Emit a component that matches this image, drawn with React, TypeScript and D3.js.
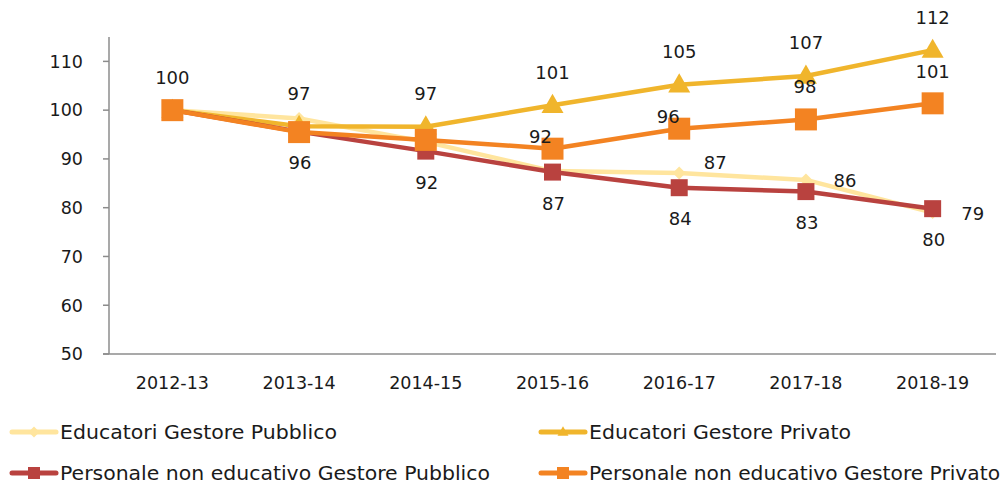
import React, { useEffect } from 'react'
import * as d3 from 'd3'

const years = ['2012-13', '2013-14', '2014-15', '2015-16', '2016-17', '2017-18', '2018-19']
const yTicks = [50, 60, 70, 80, 90, 100, 110]

const eduPubblico = [100, 98.3, 93.5, 87.5, 87.1, 85.7, 79]
const eduPrivato = [100, 96.7, 96.6, 101, 105.2, 107, 112.3]
const persPubblico = [100, 95.6, 91.6, 87.3, 84.1, 83.3, 79.8]
const persPrivato = [100, 95.5, 93.9, 92.1, 96.2, 98.1, 101.4]

const W = 1006
const H = 485
const font = '"DejaVu Sans", sans-serif'

type Marker = 'diamond' | 'triangle' | 'square'

interface Series {
  name: string
  values: number[]
  color: string
  marker: Marker
  size: number
  legendSize: number
  // which points get a value label, and where it sits relative to the point
  labels: { i: number; dx: number; dy: number }[]
}

const series: Series[] = [
  {
    name: 'Educatori Gestore Pubblico',
    values: eduPubblico,
    color: '#FFE59E',
    marker: 'diamond',
    size: 13,
    legendSize: 11,
    labels: [
      { i: 4, dx: 36, dy: -11 },
      { i: 5, dx: 39, dy: 1 },
      { i: 6, dx: 40, dy: 1 },
    ],
  },
  {
    name: 'Educatori Gestore Privato',
    values: eduPrivato,
    color: '#F0B52C',
    marker: 'triangle',
    size: 22,
    legendSize: 11,
    labels: [0, 1, 2, 3, 4, 5, 6].map(i => ({ i, dx: 0, dy: -33 })),
  },
  {
    name: 'Personale non educativo Gestore Pubblico',
    values: persPubblico,
    color: '#B9423F',
    marker: 'square',
    size: 17,
    legendSize: 12,
    labels: [1, 2, 3, 4, 5, 6].map(i => ({ i, dx: 1, dy: 31 })),
  },
  {
    name: 'Personale non educativo Gestore Privato',
    values: persPrivato,
    color: '#F38322',
    marker: 'square',
    size: 22,
    legendSize: 12,
    labels: [
      { i: 3, dx: -12, dy: -12 },
      { i: 4, dx: -11, dy: -12 },
      { i: 5, dx: -1, dy: -33 },
      { i: 6, dx: 0, dy: -32 },
    ],
  },
]

const markerPath = (m: Marker, s: number) => {
  const h = s / 2
  if (m === 'square') return `M${-h},${-h}H${h}V${h}H${-h}Z`
  if (m === 'diamond') return `M0,${-h}L${h},0L0,${h}L${-h},0Z`
  const th = s * 0.87
  return `M0,${-th * 0.6}L${h},${th * 0.4}L${-h},${th * 0.4}Z`
}

const legendPos = [
  { x: 10, y: 432, tx: 60, tw: 277 },
  { x: 539, y: 432, tx: 589, tw: 262 },
  { x: 10, y: 473, tx: 60, tw: 430 },
  { x: 539, y: 473, tx: 589, tw: 411 },
]

export default function App() {
  useEffect(() => {
    document.body.style.margin = '0'
  }, [])

  const x = d3.scaleBand().domain(years).range([109, 996]).padding(0)
  const cx = (d: string) => (x(d) || 0) + x.bandwidth() / 2
  const y = d3.scaleLinear().domain([50, 115]).range([354, 37])

  const line = d3
    .line<number>()
    .x((_, i) => cx(years[i]))
    .y(d => y(d))

  return (
    <svg width={W} height={H} style={{ display: 'block', background: '#fff' }} fontFamily={font}>
      {/* axes */}
      <line x1={109} x2={109} y1={y(115)} y2={y(50)} stroke="#8c8c8c" strokeWidth={1.5} />
      <line x1={103} x2={996} y1={y(50)} y2={y(50)} stroke="#8c8c8c" strokeWidth={1.5} />
      {yTicks.map(t => (
        <g key={t}>
          <line x1={103} x2={109} y1={y(t)} y2={y(t)} stroke="#8c8c8c" strokeWidth={1.5} />
          <text x={83} y={y(t)} dy="0.36em" textAnchor="end" fontSize={17.5} fill="#1a1a1a">
            {t}
          </text>
        </g>
      ))}
      {years.map(d => (
        <text key={d} x={cx(d)} y={383} dy="0.36em" textAnchor="middle" fontSize={17.5} fill="#1a1a1a">
          {d}
        </text>
      ))}

      {/* lines and markers */}
      {series.map(s => (
        <g key={s.name}>
          <path
            d={line(s.values) || ''}
            fill="none"
            stroke={s.color}
            strokeWidth={4.5}
            strokeLinejoin="round"
          />
          {s.values.map((v, i) => (
            <path
              key={i}
              d={markerPath(s.marker, s.size)}
              transform={`translate(${cx(years[i])},${y(v)})`}
              fill={s.color}
            />
          ))}
        </g>
      ))}

      {/* value labels */}
      {series.map(s =>
        s.labels.map(l => (
          <text
            key={s.name + l.i}
            x={cx(years[l.i]) + l.dx}
            y={y(s.values[l.i]) + l.dy}
            dy="0.36em"
            textAnchor="middle"
            fontSize={18}
            fill="#1a1a1a"
          >
            {Math.round(s.values[l.i])}
          </text>
        ))
      )}

      {/* legend */}
      {series.map((s, k) => {
        const p = legendPos[k]
        return (
          <g key={s.name}>
            <line
              x1={p.x + 2}
              x2={p.x + 46}
              y1={p.y}
              y2={p.y}
              stroke={s.color}
              strokeWidth={5}
              strokeLinecap="round"
            />
            <path d={markerPath(s.marker, s.legendSize)} transform={`translate(${p.x + 24},${p.y})`} fill={s.color} />
            <text
              x={p.tx}
              y={p.y}
              dy="0.36em"
              fontSize={20}
              fill="#1a1a1a"
              textLength={p.tw}
              lengthAdjust="spacingAndGlyphs"
            >
              {s.name}
            </text>
          </g>
        )
      })}
    </svg>
  )
}
